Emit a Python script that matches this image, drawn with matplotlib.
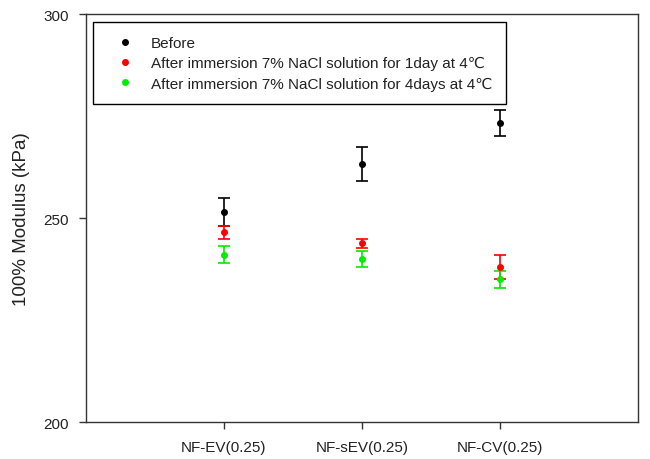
import numpy as np
import matplotlib.pyplot as plt
from matplotlib.lines import Line2D

plt.rcParams['font.family'] = ['Liberation Sans', 'DejaVu Sans']

samples = ['NF-EV(0.25)', 'NF-sEV(0.25)', 'NF-CV(0.25)']
labels = ['Before',
          'After immersion 7% NaCl solution for 1day at 4\u2103',
          'After immersion 7% NaCl solution for 4days at 4\u2103']
colors = ['black', '#ff0000', '#00ee00']

before = [251.6, 263.3, 273.3]
before_err = [3.4, 4.2, 3.2]
day1 = [246.6, 243.9, 238.0]
day1_err = [1.6, 1.1, 2.9]
day4 = [241.0, 240.0, 235.0]
day4_err = [2.1, 2.0, 2.1]

x = np.arange(1, len(samples) + 1)

fig = plt.figure(figsize=(6.5, 4.6), dpi=100)
ax = fig.add_axes([0.132, 0.080, 0.850, 0.887])

for vals, errs, c in zip([before, day1, day4], [before_err, day1_err, day4_err], colors):
    ax.errorbar(x, vals, yerr=errs, fmt='o', color=c, ecolor=c, markersize=4,
                capsize=4, capthick=1.2, elinewidth=1.2)

ax.set_xlim(0, 4)
ax.set_ylim(200, 300)
ax.set_yticks([200, 250, 300])
ax.set_xticks(x)
ax.set_xticklabels(samples)
ax.tick_params(direction='out', length=5, width=1, labelsize=11, colors='#333333',
               labelcolor='#222222')
ax.tick_params(axis='x', pad=8)
ax.tick_params(axis='y', pad=7)
for s in ax.spines.values():
    s.set_linewidth(1)
    s.set_color('#333333')
ax.set_ylabel('100% Modulus (kPa)', fontsize=13.5, labelpad=10, color='#222222')

handles = [Line2D([], [], marker='o', linestyle='none', color=c, markersize=4) for c in colors]
leg = ax.legend(handles, labels, loc='upper left', bbox_to_anchor=(0.013, 0.98),
                borderaxespad=0, fontsize=11, fancybox=False, framealpha=1,
                edgecolor='black', handlelength=2.4, handletextpad=0.5,
                borderpad=0.9, labelspacing=0.4)
leg.get_frame().set_linewidth(1)
for t in leg.get_texts():
    t.set_color('#222222')

plt.savefig('out.png', dpi=100)
